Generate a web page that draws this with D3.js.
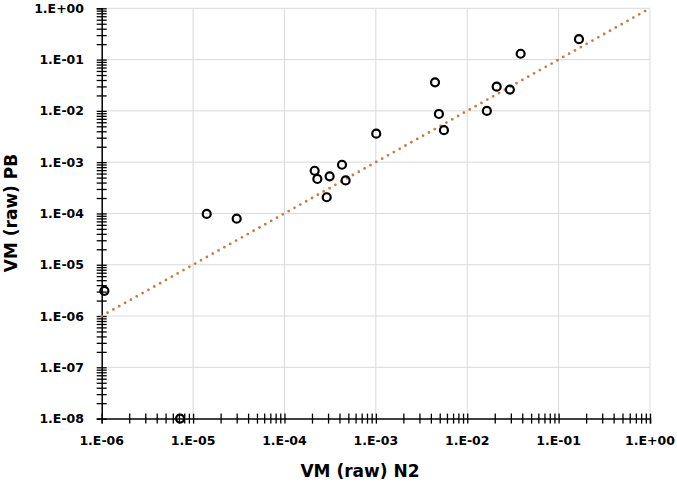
<!DOCTYPE html>
<html>
<head>
<meta charset="utf-8">
<script src="https://cdn.jsdelivr.net/npm/d3@7"></script>
<style>
  body { margin: 0; background: #fff; }
  text { font-family: "DejaVu Sans", sans-serif; font-weight: bold; fill: #000; }
</style>
</head>
<body>
<div id="main"></div>
<script>

var width = 677;
var height = 489;

// measured points: VM (raw) N2 vs VM (raw) PB
var n2 = [1.07e-6, 7.2e-6, 1.41e-5, 3.0e-5, 2.14e-4, 2.29e-4, 3.12e-4, 4.26e-4, 4.67e-4, 2.9e-4,
          1.01e-3, 4.44e-3, 4.9e-3, 5.56e-3, 1.64e-2, 2.1e-2, 2.93e-2, 3.84e-2, 0.167];
var pb = [3.1e-6, 1e-8, 9.8e-5, 7.9e-5, 6.8e-4, 4.7e-4, 5.3e-4, 8.9e-4, 4.4e-4, 2.07e-4,
          3.6e-3, 3.6e-2, 8.7e-3, 4.2e-3, 1.0e-2, 2.96e-2, 2.6e-2, 0.13, 0.25];

var xTicks = [1e-6, 1e-5, 1e-4, 1e-3, 1e-2, 1e-1, 1];
var yTicks = [1e-8, 1e-7, 1e-6, 1e-5, 1e-4, 1e-3, 1e-2, 1e-1, 1];
var trend = [[1e-6, 1e-6], [1, 1]]; // y = x line

var LEFT = 101.7, RIGHT = 650, TOP = 8.3, BOTTOM = 418.6;

function fmt(v){
  var e = Math.round(Math.log10(v));
  var s = e < 0 ? "-" : "+";
  var a = Math.abs(e);
  return "1.E" + s + (a < 10 ? "0" + a : a);
}

function minors(lo, hi){
  var out = [];
  for(var e = lo; e < hi; e++){
    for(var m = 2; m < 10; m++){
      out.push(m * Math.pow(10, e));
    }
  }
  return out;
}

function init(){
  var svg = d3.select("#main")
    .append("svg")
    .attr("width", width)
    .attr("height", height);

  var x = d3.scaleLog().domain([1e-6, 1]).range([LEFT, RIGHT]);
  var y = d3.scaleLog().domain([1e-8, 1]).range([BOTTOM, TOP]);

  // gridlines
  svg.append("g").selectAll("line.vx")
    .data(xTicks.slice(1))
    .enter().append("line")
    .attr("x1", function(d){ return x(d); })
    .attr("x2", function(d){ return x(d); })
    .attr("y1", TOP).attr("y2", BOTTOM)
    .attr("stroke", "#d9d9d9").attr("stroke-width", 1);
  svg.append("g").selectAll("line.hy")
    .data(yTicks.slice(1))
    .enter().append("line")
    .attr("y1", function(d){ return y(d); })
    .attr("y2", function(d){ return y(d); })
    .attr("x1", LEFT).attr("x2", RIGHT)
    .attr("stroke", "#d9d9d9").attr("stroke-width", 1);

  // axes (ticks cross the line)
  var xa = svg.append("g").attr("transform", "translate(0," + BOTTOM + ")");
  xa.call(d3.axisBottom(x).tickValues(xTicks.concat(minors(-6, 0))).tickSize(5).tickFormat(""));
  xa.selectAll(".tick line").attr("y1", -5).attr("stroke", "#000").attr("stroke-width", 1.3);
  xa.select(".domain").attr("stroke", "#000").attr("stroke-width", 1.5);

  var ya = svg.append("g").attr("transform", "translate(" + LEFT + ",0)");
  ya.call(d3.axisLeft(y).tickValues(yTicks.concat(minors(-8, 0))).tickSize(5).tickFormat(""));
  ya.selectAll(".tick line").attr("x1", 5).attr("stroke", "#000").attr("stroke-width", 1.3);
  ya.select(".domain").attr("stroke", "#000").attr("stroke-width", 1.5);

  // tick labels
  svg.append("g").selectAll("text")
    .data(xTicks)
    .enter().append("text")
    .attr("x", function(d){ return x(d); })
    .attr("y", 445)
    .attr("text-anchor", "middle")
    .attr("font-size", 12.5)
    .text(fmt);
  svg.append("g").selectAll("text")
    .data(yTicks)
    .enter().append("text")
    .attr("x", 84)
    .attr("y", function(d){ return y(d) + 4.6; })
    .attr("text-anchor", "end")
    .attr("font-size", 12.5)
    .text(fmt);

  // axis titles
  svg.append("text")
    .attr("x", 360).attr("y", 477)
    .attr("text-anchor", "middle")
    .attr("font-size", 17)
    .text("VM (raw) N2");
  svg.append("text")
    .attr("transform", "translate(17,213) rotate(-90)")
    .attr("text-anchor", "middle")
    .attr("font-size", 17)
    .text("VM (raw) PB");

  // trendline
  var line = d3.line()
    .x(function(d){ return x(d[0]); })
    .y(function(d){ return y(d[1]); });
  svg.append("path")
    .datum(trend)
    .attr("d", line)
    .attr("fill", "none")
    .attr("stroke", "#c67c44")
    .attr("stroke-width", 2.8)
    .attr("stroke-linecap", "round")
    .attr("stroke-dasharray", "0 6.7");

  // markers
  svg.append("g").selectAll("circle")
    .data(n2)
    .enter().append("circle")
    .attr("cx", function(d){ return x(d); })
    .attr("cy", function(d, i){ return y(pb[i]); })
    .attr("r", 4)
    .attr("fill", "none")
    .attr("stroke", "#000")
    .attr("stroke-width", 2.2);
}
init();
</script>
</body>
</html>
